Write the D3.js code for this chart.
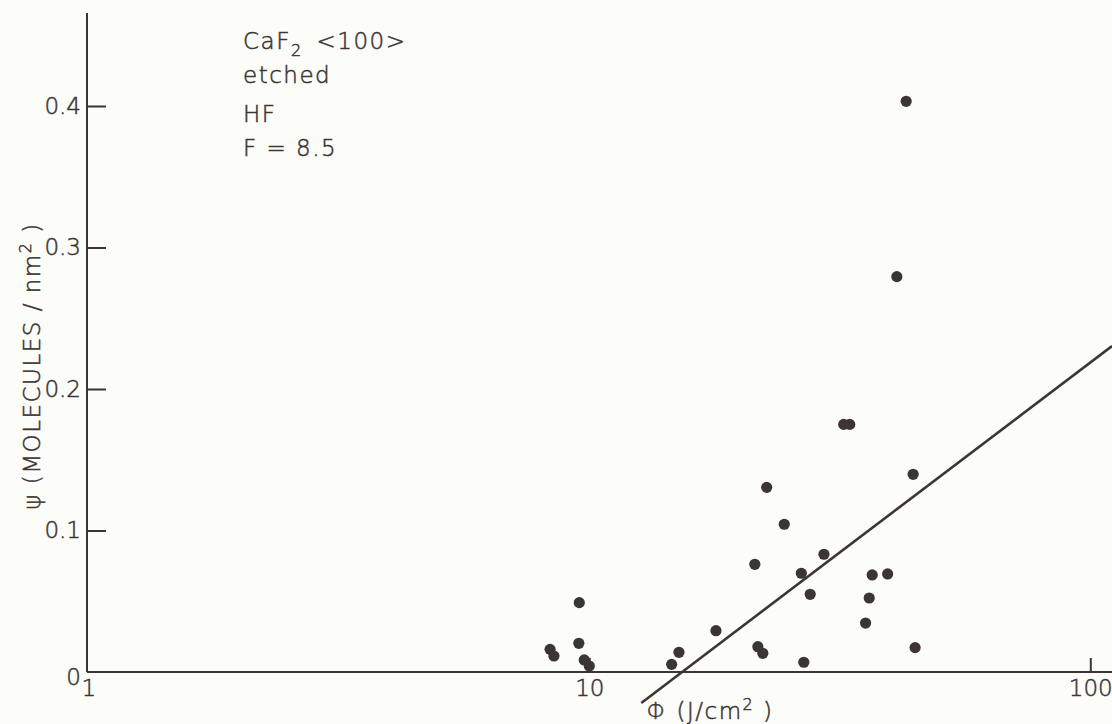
<!DOCTYPE html>
<html>
<head>
<meta charset="utf-8">
<script src="https://cdn.jsdelivr.net/npm/d3@7"></script>
<style>
  html, body { margin: 0; padding: 0; background: #fcfcf8; }
  svg { display: block; }
  text { font-family: "DejaVu Sans", "Liberation Sans", sans-serif; fill: #3b3536; stroke: #3b3536; stroke-width: 0.5px; }
</style>
</head>
<body>
<svg id="chart" width="1112" height="724"></svg>
<script>
// ---- data ----
const fluence = [9.55, 9.53, 8.35, 8.50, 9.77, 10.0, 14.6, 15.1, 17.9, 21.4, 21.7, 22.2, 22.6, 24.5,
                 26.5, 26.8, 27.6, 29.4, 32.2, 33.1, 35.6, 36.2, 36.7, 39.4, 41.1, 42.9, 44.3, 44.7];
const coverage = [0.049, 0.0203, 0.016, 0.0113, 0.0085, 0.0042, 0.0054, 0.0139, 0.0292, 0.0761, 0.0179, 0.0132, 0.1305, 0.1044,
                  0.0698, 0.0069, 0.0549, 0.0832, 0.175, 0.175, 0.0346, 0.0523, 0.0686, 0.0693, 0.2794, 0.4033, 0.1397, 0.0172];
const fitFluence = [12.7, 110.5];
const fitCoverage = [-0.0219, 0.2304];
const xTicks = [1, 10, 100];
const yTicks = [0, 0.1, 0.2, 0.3, 0.4];
const yTickLabels = ["0", "0.1", "0.2", "0.3", "0.4"];
const annotation = ["CaF2 <100>", "etched", "HF", "F = 8.5"];

const ink = "#3b3536";
const svg = d3.select("#chart");

const x = d3.scaleLog().domain([1, 100]).range([88.3, 1090.3]);
const y = d3.scaleLinear().domain([0, 0.4]).range([672, 106]);

// axis lines
svg.append("line").attr("x1", 87).attr("x2", 87).attr("y1", 13).attr("y2", 672)
  .attr("stroke", ink).attr("stroke-width", 2);
svg.append("line").attr("x1", 87).attr("x2", 1112).attr("y1", 672).attr("y2", 672)
  .attr("stroke", ink).attr("stroke-width", 2);

// y axis
const yAxis = svg.append("g").attr("transform", "translate(87,0)")
  .call(d3.axisLeft(y).tickValues(yTicks).tickSize(-19).tickPadding(6)
    .tickFormat((d, i) => yTickLabels[i]));
yAxis.select(".domain").remove();
yAxis.selectAll(".tick line").attr("stroke", ink).attr("stroke-width", 2)
  .filter(d => d === 0).remove();
yAxis.selectAll(".tick text").style("font-size", "23px").attr("fill", ink)
  .style("font-family", "DejaVu Sans, sans-serif").style("font-weight", "200");
yAxis.selectAll(".tick").filter(d => d === 0).select("text").attr("dy", "0.55em");

// x axis
const xAxis = svg.append("g").attr("transform", "translate(0,672)")
  .call(d3.axisBottom(x).tickValues(xTicks).tickSize(-14).tickPadding(8)
    .tickFormat(d3.format("d")));
xAxis.select(".domain").remove();
xAxis.selectAll(".tick line").attr("stroke", ink).attr("stroke-width", 2)
  .filter(d => d === 1).remove();
xAxis.selectAll(".tick text").style("font-size", "23px").attr("fill", ink)
  .style("font-family", "DejaVu Sans, sans-serif").style("font-weight", "200");

// fit line
const fit = fitFluence.map((f, i) => [f, fitCoverage[i]]);
svg.append("path").datum(fit)
  .attr("d", d3.line().x(d => x(d[0])).y(d => y(d[1])))
  .attr("stroke", ink).attr("stroke-width", 2.6).attr("fill", "none");

// points
const pts = fluence.map((f, i) => [f, coverage[i]]);
svg.append("g").selectAll("circle").data(pts).join("circle")
  .attr("cx", d => x(d[0])).attr("cy", d => y(d[1])).attr("r", 5.6)
  .attr("fill", ink);

// annotation
const ann = svg.append("g").style("font-size", "23px").style("font-weight", "200")
  .style("letter-spacing", "1.5px");
const annY = [49, 83, 122, 156];
annotation.forEach((t, i) => {
  const txt = ann.append("text").attr("x", 243).attr("y", annY[i]);
  if (i === 0) {
    txt.append("tspan").text("CaF");
    txt.append("tspan").attr("dy", 7).style("font-size", "16px").text("2");
    txt.append("tspan").attr("dy", -7).attr("dx", 14).text("<100>");
  } else {
    txt.text(t);
  }
});

// x axis title
const xt = svg.append("text").attr("x", 710).attr("y", 719).attr("text-anchor", "middle")
  .style("font-size", "23px").style("font-weight", "200").style("letter-spacing", "1.5px");
xt.append("tspan").text("Φ (J/cm");
xt.append("tspan").attr("dy", -9).style("font-size", "16px").text("2");
xt.append("tspan").attr("dy", 9).text(" )");

// y axis title
const yt = svg.append("text").attr("transform", "translate(40,366) rotate(-90)")
  .attr("text-anchor", "middle")
  .style("font-size", "23px").style("font-weight", "200").style("letter-spacing", "1.5px");
yt.append("tspan").text("ψ (MOLECULES / nm");
yt.append("tspan").attr("dy", -9).style("font-size", "16px").text("2");
yt.append("tspan").attr("dy", 9).text(" )");
</script>
</body>
</html>
